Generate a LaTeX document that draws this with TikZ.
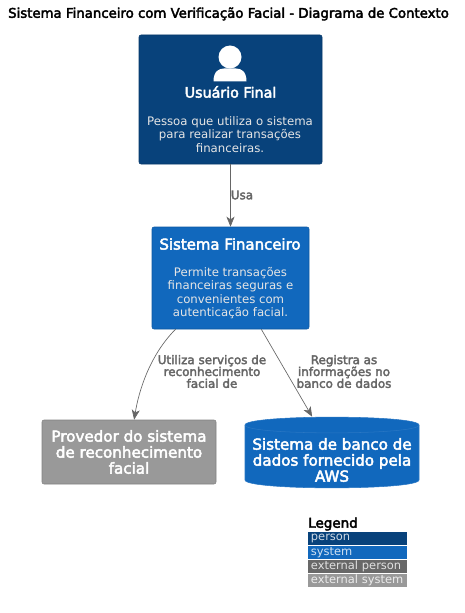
\documentclass[tikz,border=0pt]{standalone}
\usepackage{fontspec}
\setmainfont{DejaVu Sans}
\newfontfamily\medfont[FakeBold=3]{DejaVu Sans}
\usetikzlibrary{arrows.meta}
\definecolor{personblue}{HTML}{08427B}
\definecolor{systemblue}{HTML}{1168BD}
\definecolor{extgray}{HTML}{999999}
\definecolor{extperson}{HTML}{686868}
\definecolor{linegray}{HTML}{666666}
\tikzset{
  box/.style={draw=#1!85!black,fill=#1,rounded corners=1.5pt,line width=0.4pt,text=white,align=center,inner sep=0pt},
  rel/.style={draw=linegray,line width=0.5pt,-{Stealth[length=7.5pt,width=6pt,inset=2pt]}},
  rellabel/.style={text=linegray,font=\medfont\fontsize{8.95}{8.9}\selectfont,align=center},
  titletext/.style={font=\medfont\fontsize{10.7}{12}\selectfont,text=white,align=center},
  bigtext/.style={font=\medfont\fontsize{11.35}{12}\selectfont,text=white,align=center},
  desctext/.style={font=\fontsize{8.8}{10.1}\selectfont,text=white!90!black,align=center},
  legendrow/.style={fill=#1,text width=74.25pt,minimum height=10.3pt,inner sep=0pt,text=white!80!#1,font=\fontsize{8.6}{10}\selectfont,anchor=west,align=left}
}
\begin{document}
\begin{tikzpicture}[x=0.75pt,y=0.75pt,yscale=-1,xscale=1]
\useasboundingbox (0,0) rectangle (464,613);

% Title
\node (title) at (228.5,14) {\medfont\fontsize{9.97}{11}\selectfont Sistema Financeiro com Verificação Facial - Diagrama de Contexto};

% Boxes
\node [box=personblue,minimum width=137.25pt,minimum height=96.75pt] (user) at (230.5,99.5) {};
\node [box=systemblue,minimum width=117.75pt,minimum height=76.5pt] (sys) at (230.5,278) {};
\node [box=extgray,minimum width=130.5pt,minimum height=48pt] (prov) at (129,452) {};
\node [minimum width=130.5pt,minimum height=53.25pt,inner sep=0pt] (db) at (332,452.5) {};

% Person icon
\fill [white] (230,57) circle [radius=11.5];
\fill [white] (213.5,81.5) .. controls (213.5,71) and (219,68.5) .. (224,68.5) -- (236,68.5) .. controls (241,68.5) and (246.5,71) .. (246.5,81.5) -- cycle;

% Database
\draw [fill=systemblue,draw=systemblue!90!white,line width=0.4pt] (245,425) .. controls (245,414.5) and (419,414.5) .. (419,425) -- (419,480) .. controls (419,490.5) and (245,490.5) .. (245,480) -- cycle;
\draw [draw=systemblue!90!white,line width=0.4pt] (245,425) .. controls (245,435.5) and (419,435.5) .. (419,425);

% Box texts
\node [titletext] (usertitle) at (230.5,92) {Usuário Final};
\node [desctext] (userdesc) at (230,134.5) {Pessoa que utiliza o sistema\\para realizar transações\\financeiras.};
\node [titletext,font=\medfont\fontsize{11.2}{12}\selectfont] (systitle) at (230,244) {Sistema Financeiro};
\node [desctext] (sysdesc) at (230.5,293) {Permite transações\\financeiras seguras e\\convenientes com\\autenticação facial.};
\node [bigtext] (provtext) at (129,452) {Provedor do sistema\\de reconhecimento\\facial};
\node [bigtext] (dbtext) at (332,460) {Sistema de banco de\\dados fornecido pela\\AWS};

% Connectors
\draw [rel] (user) -- (sys);
\draw [rel] (sys.-137) .. controls (150,355) and (139,390) .. (prov.81);
\draw [rel] (sys.-59) -- (db.119);

% Connector labels
\node [rellabel] (usa) at (242,195) {Usa};
\node [rellabel] (utiliza) at (212,371.5) {Utiliza serviços de\\reconhecimento\\facial de};
\node [rellabel] (registra) at (344,371.5) {Registra as\\informações no\\banco de dados};

% Legend
\node [anchor=west,inner sep=0pt,font=\medfont\fontsize{10.1}{11}\selectfont] (legend) at (308,524) {Legend};
\node [legendrow=personblue] (lperson) at (308,538.5) {\raisebox{-0.8pt}{\hspace{2pt}person}};
\node [legendrow=systemblue] (lsystem) at (308,552.5) {\raisebox{-0.8pt}{\hspace{2pt}system}};
\node [legendrow=extperson] (lextperson) at (308,566.5) {\raisebox{-0.8pt}{\hspace{2pt}external person}};
\node [legendrow=extgray] (lextsystem) at (308,580.5) {\raisebox{-0.8pt}{\hspace{2pt}external system}};
\end{tikzpicture}
\end{document}
